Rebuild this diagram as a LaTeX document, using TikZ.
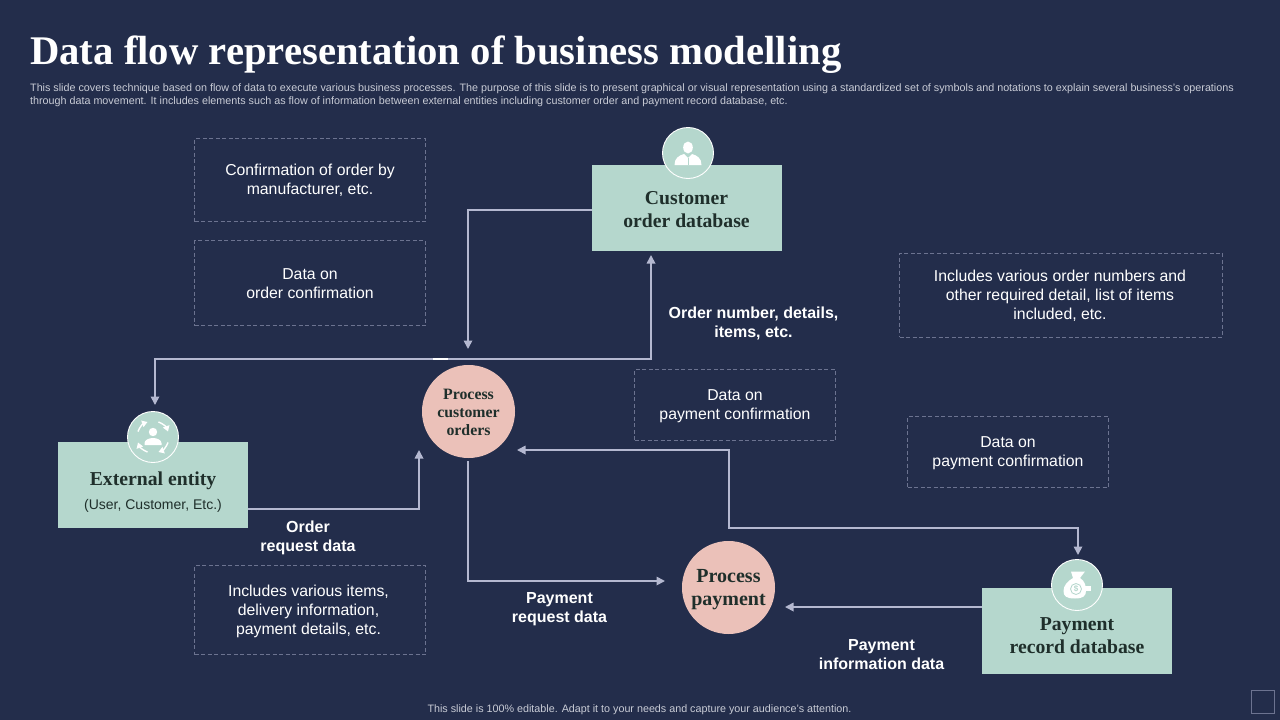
\documentclass[tikz,border=0pt]{standalone}
\usepackage{fontspec}
\setmainfont{Liberation Sans}
\newfontfamily\pal{Liberation Serif}
\usetikzlibrary{arrows.meta,calc}
\definecolor{bgc}{HTML}{232D4B}
\definecolor{mint}{HTML}{B5D7CD}
\definecolor{pinkc}{HTML}{EBC1B9}
\definecolor{linec}{HTML}{B4B8D0}
\definecolor{dashc}{HTML}{6C7390}
\definecolor{darktx}{HTML}{1F2F2B}
\definecolor{subt}{HTML}{C9CCD6}
\newcommand{\fs}[1]{\fontsize{#1}{#1}\selectfont}
\tikzset{
 flow/.style={draw=linec,line width=1.7pt,-{Triangle[length=8.5pt,width=8.5pt]}},
 flowboth/.style={draw=linec,line width=1.7pt,{Triangle[length=8.5pt,width=8.5pt]}-{Triangle[length=8.5pt,width=8.5pt]}},
 dbox/.style={draw=dashc,dash pattern=on 4pt off 2.5pt,line width=.8pt,minimum width=#1,inner sep=0},
 dtext/.style={inner sep=0,align=center,text=white,font=\fs{15.8}},
 mintbox/.style={fill=mint,minimum width=190pt,minimum height=86pt,inner sep=0},
 boxtitle/.style={align=center,text=darktx,font=\fs{19.7}\pal\bfseries},
 proc/.style={circle,fill=pinkc,minimum size=93pt,inner sep=0},
 badge/.style={circle,fill=mint,draw=white,line width=.9pt,minimum size=51pt,inner sep=0},
 lbl/.style={align=center,text=white,font=\fs{16}\bfseries},
 icon/.style={fill=white,draw=none}
}
\begin{document}
\begin{tikzpicture}[x=1pt,y=-1pt]
\fill[bgc] (0,0) rectangle (1280,720);
\useasboundingbox (0,0) rectangle (1280,720);
\node[anchor=west,text=white,inner sep=0,font=\fs{40.7}\pal\bfseries] (title) at (30,55) {Data flow representation of business modelling};
\node[anchor=north west,inner sep=0,text=subt,align=left,font=\fs{10.75}] (sub) at (30,83.5) {This slide covers technique based on flow of data to execute various business processes. The purpose of this slide is to present graphical or visual representation using a standardized set of symbols and notations to explain several business's operations\\[2.6pt]through data movement. It includes elements such as flow of information between external entities including customer order and payment record database, etc.};
\node[text=subt,inner sep=0,font=\fs{10.75}] (foot) at (639.5,710) {This slide is 100\% editable. Adapt it to your needs and capture your audience's attention.};
\node[draw=dashc,line width=1pt,minimum size=23pt,inner sep=0] (corner) at (1263,702) {};

% dashed boxes
\node[dbox=231pt,minimum height=83pt] (d1) at (310,180) {};
\node[dbox=231pt,minimum height=85pt] (d2) at (310,283) {};
\node[dbox=231pt,minimum height=89pt] (d3) at (310,610) {};
\node[dbox=201pt,minimum height=71pt] (d4) at (735,405) {};
\node[dbox=201pt,minimum height=71pt] (d5) at (1008,452) {};
\node[dbox=323pt,minimum height=84pt] (d6) at (1061,295) {};
\node[dtext] (t1) at (310,180) {Confirmation of order by\\[3pt]manufacturer, etc.};
\node[dtext] (t2) at (310,284) {Data on\\[3pt]order confirmation};
\node[dtext] (t3) at (308.5,611.5) {Includes various items,\\[3pt]delivery information,\\[3pt]payment details, etc.};
\node[dtext] (t4) at (735,406) {Data on\\[3pt]payment confirmation};
\node[dtext] (t5) at (1008,453) {Data on\\[3pt]payment confirmation};
\node[dtext] (t6) at (1060,296) {Includes various order numbers and\\[3pt]other required detail, list of items\\[3pt]included, etc.};

% main nodes
\node[mintbox] (cust) at (687,208) {};
\node[mintbox] (ext) at (153,485) {};
\node[mintbox] (pay) at (1077,631) {};
\node[boxtitle] (custt) at (686.5,209.5) {Customer\\[3.6pt]order database};
\node[boxtitle,anchor=center] (extt) at (153,481) {External entity};
\node[text=darktx,inner sep=0,font=\fs{14}] (exts) at (153,506) {(User, Customer, Etc.)};
\node[boxtitle] (payt) at (1077,635.5) {Payment\\[3.6pt]record database};
\node[proc] (pc) at (468.5,411.5) {};
\node[proc] (pp) at (728.5,587.5) {};
\node[align=center,text=darktx,inner sep=0,font=\fs{15.8}\pal\bfseries] (pct) at (468.5,412.5) {Process\\[2pt]customer\\[2pt]orders};
\node[align=center,text=darktx,inner sep=0,font=\fs{20}\pal\bfseries] (ppt) at (728.5,589.5) {Process\\[3pt]payment};
\node[badge] (b1) at (688,153) {};
\node[badge] (b2) at (153,437) {};
\node[badge] (b3) at (1077,585) {};

% icon: person with jacket
\fill[icon] (688,147.5) ellipse (4.8pt and 6pt);
\fill[icon] (674.5,165) .. controls (674.5,158) and (679,155.5) .. (684,154) -- (688,158) -- (692,154) .. controls (697,155.5) and (701.5,158) .. (701.5,165) -- cycle;
\draw[mint,line width=.6pt] (688,158) -- (688,165);
% icon: person in cycle arrows
\fill[icon] (153,432) circle (4.2pt);
\fill[icon] (144.5,445) -- (144.5,443) .. controls (144.5,440) and (149,438) .. (153,438) .. controls (157,438) and (161.5,440) .. (161.5,443) -- (161.5,445) -- cycle;
\foreach \a/\b in {-160/-110,-70/-20,20/70,110/160}
  \draw[white,line width=1.4pt,-{Triangle[length=5.5pt,width=6.5pt]}] ($(b2)+(\a:16pt and -16pt)$) arc[start angle=\a,end angle=\b,x radius=16pt,y radius=-16pt];
% icon: money bag
\fill[icon] (1071,571.5) -- (1085,571.5) -- (1080,578) .. controls (1085,581) and (1086,586) .. (1086,591) .. controls (1086,596) and (1083,598.5) .. (1075,598.5) .. controls (1066,598.5) and (1063.5,596) .. (1063.5,591) .. controls (1063.5,585) and (1068,581) .. (1073,578) -- cycle;
\fill[icon] (1084,586) rectangle (1091,591);
\draw[mint,line width=.8pt] (1076,589) circle (5.5pt);
\node[text=mint,inner sep=0,font=\fs{8}\bfseries] (dollar) at (1076,589) {\$};

% connectors
\coordinate (e1) at (468,349);
\coordinate (e2) at (419,450);
\coordinate (e3) at (665,581);
\coordinate (e4) at (785,607);
\coordinate (a1) at (651,255);
\coordinate (a2) at (155,405);
\coordinate (a3) at (517,450);
\coordinate (a4) at (1078,555);
\coordinate (pcb) at (468,461);
\draw[flow] (cust.west |- 0,210) -| (e1);
\draw[flowboth] (a1) |- (a2 |- 0,359) -- (a2);
\draw[white,line width=1.7pt] (433,359) -- (448,359);
\draw[flow] (ext.east |- 0,509) -| (e2);
\draw[flow] (pcb) |- (e3);
\draw[flow] (pay.west |- 0,607) -- (e4);
\draw[flowboth] (a3) -| (729,528) -| (a4);

% labels
\node[lbl] (l1) at (753.5,323) {Order number, details,\\[3pt]items, etc.};
\node[lbl] (l2) at (308,538) {Order\\[3pt]request data};
\node[lbl] (l3) at (559.5,609) {Payment\\[3pt]request data};
\node[lbl] (l4) at (881.5,654.5) {Payment\\[3pt]information data};
\end{tikzpicture}
\end{document}
